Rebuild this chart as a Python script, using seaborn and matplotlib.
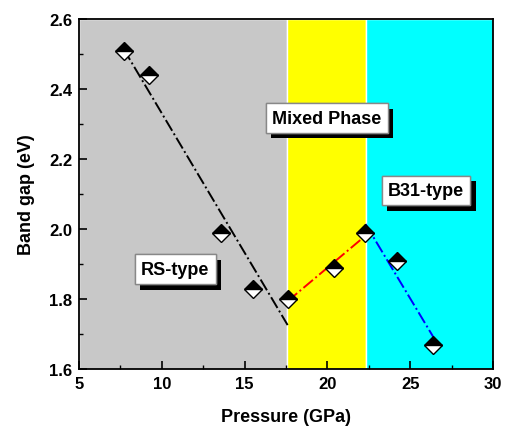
import numpy as np
import pandas as pd
import matplotlib
matplotlib.use("Agg")
import matplotlib.pyplot as plt
import matplotlib.patheffects as pe
from matplotlib.ticker import MultipleLocator
import seaborn as sns

# Data
rs_p = [7.7, 9.2, 13.6, 15.5, 17.6]
rs_gap = [2.51, 2.44, 1.99, 1.83, 1.80]
mix_p = [17.6, 20.4, 22.3]
mix_gap = [1.80, 1.89, 1.99]
b31_p = [22.3, 24.2, 26.4]
b31_gap = [1.99, 1.91, 1.67]

all_p = [7.7, 9.2, 13.6, 15.5, 17.6, 20.4, 22.3, 24.2, 26.4]
all_gap = [2.51, 2.44, 1.99, 1.83, 1.80, 1.89, 1.99, 1.91, 1.67]

regions = [(5, 17.55, "#c8c8c8"), (17.55, 22.35, "#ffff00"), (22.35, 30, "#00ffff")]
labels = [("RS-type", 10.8, 1.885), ("Mixed Phase", 19.95, 2.317), ("B31-type", 25.95, 2.11)]

sns.set_theme(style="ticks")
plt.rcParams['font.family'] = ['Liberation Sans', 'DejaVu Sans']
plt.rcParams.update({"text.color": "black", "axes.labelcolor": "black",
                     "xtick.color": "black", "ytick.color": "black",
                     "axes.edgecolor": "black"})

fig = plt.figure(figsize=(5.05, 4.27), dpi=100)
ax = fig.add_axes([79/505, 1 - 370/427, (493-79)/505, (370-20)/427])

for x0, x1, c in regions:
    ax.axvspan(x0, x1, facecolor=c, edgecolor="white", linewidth=1, zorder=0)

for px, gy, col in [(rs_p, rs_gap, "black"), (mix_p, mix_gap, "red"), (b31_p, b31_gap, "blue")]:
    df = pd.DataFrame({"p": px, "g": gy})
    sns.regplot(data=df, x="p", y="g", ax=ax, scatter=False, ci=None, truncate=True,
                line_kws=dict(color=col, linestyle="-.", linewidth=1.4, zorder=2))

ax.plot(all_p, all_gap, linestyle="none", marker="D", markersize=9.5, fillstyle="top",
        markerfacecolor="black", markerfacecoloralt="white", markeredgecolor="black",
        markeredgewidth=1.0, zorder=3)

for txt, x, y in labels:
    t = ax.text(x, y, txt, ha="center", va="center", fontsize=13, fontweight="bold",
                color="black",
                bbox=dict(boxstyle="square,pad=0.35", facecolor="white", edgecolor="#888888",
                          linewidth=1.0), zorder=5)
    t.get_bbox_patch().set_path_effects([
        pe.withSimplePatchShadow(offset=(4, -4), shadow_rgbFace="black", alpha=1.0),
        pe.Normal()])

ax.set_xlim(5, 30)
ax.set_ylim(1.6, 2.6)
ax.xaxis.set_major_locator(MultipleLocator(5))
ax.xaxis.set_minor_locator(MultipleLocator(2.5))
ax.yaxis.set_major_locator(MultipleLocator(0.2))
ax.yaxis.set_minor_locator(MultipleLocator(0.1))
ax.yaxis.set_major_formatter(matplotlib.ticker.FormatStrFormatter('%.1f'))
ax.tick_params(which="major", direction="in", length=5.5, width=1.2, labelsize=12,
               top=False, right=False, pad=5, colors="black")
ax.tick_params(which="minor", direction="in", length=3, width=1.0, top=False, right=False,
               colors="black")
for lab in ax.get_xticklabels() + ax.get_yticklabels():
    lab.set_fontweight("bold")
for s in ax.spines.values():
    s.set_linewidth(1.3)
    s.set_color("black")
    s.set_visible(True)

ax.set_xlabel("Pressure (GPa)", fontsize=13, fontweight="bold", labelpad=12, color="black")
ax.set_ylabel("Band gap (eV)", fontsize=13, fontweight="bold", labelpad=10, color="black")

fig.savefig("out.png", dpi=100)
